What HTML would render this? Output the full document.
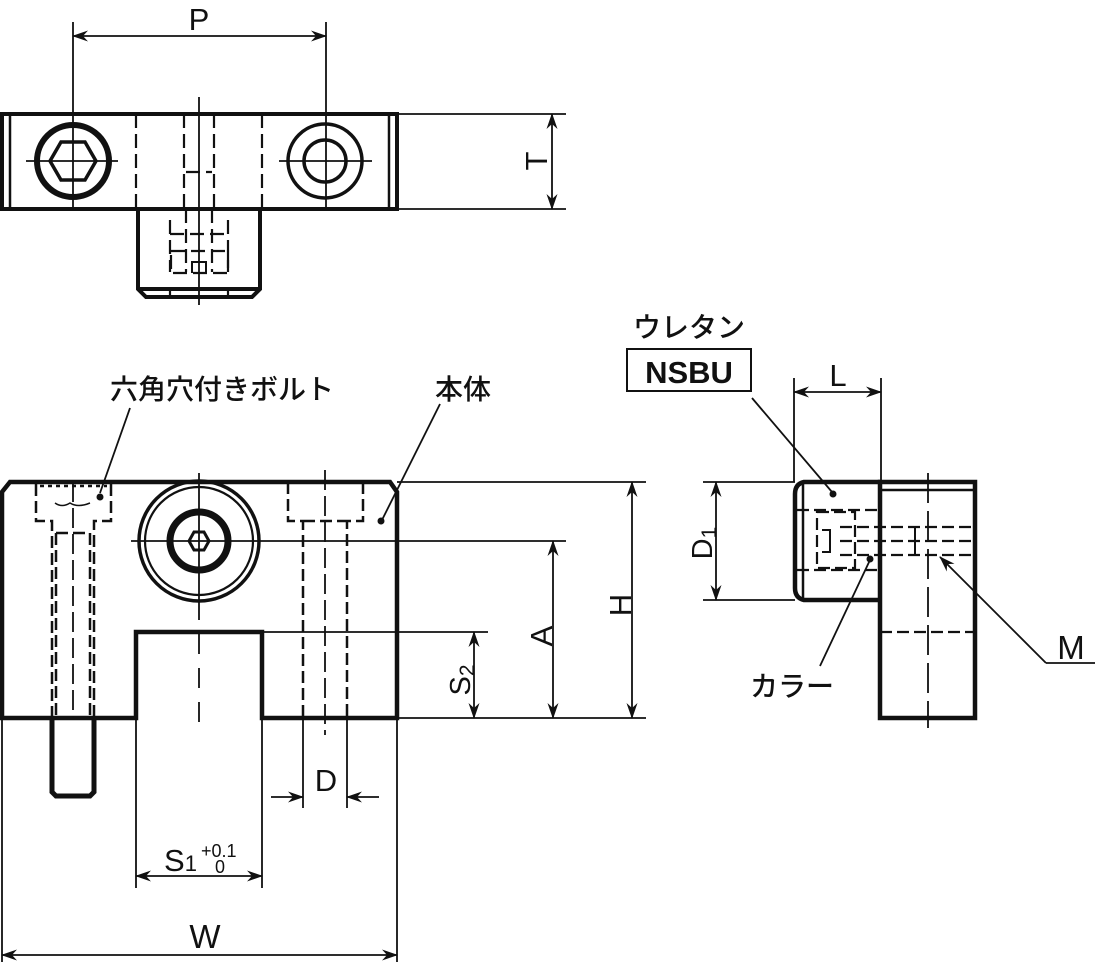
<!DOCTYPE html>
<html><head><meta charset="utf-8"><style>
html,body{margin:0;padding:0;background:#fff;}
svg{display:block;}
text{font-family:"Liberation Sans","Noto Sans CJK JP",sans-serif;fill:#111;}
.j{font-weight:500;}
</style></head><body>
<svg width="1098" height="968" viewBox="0 0 1098 968" xmlns="http://www.w3.org/2000/svg">
<defs>
<marker id="a" markerWidth="16" markerHeight="11" refX="15" refY="5.5" orient="auto-start-reverse" markerUnits="userSpaceOnUse">
<path d="M0,0 L16,5.5 L0,11 L5,5.5 Z" fill="#111"/></marker>
</defs>
<g stroke="#111" fill="none">
<!-- TOP VIEW -->
<g stroke-width="1.8">
<line x1="73" y1="22" x2="73" y2="208"/><line x1="326" y1="22" x2="326" y2="208"/>
<line x1="73" y1="36" x2="326" y2="36" marker-start="url(#a)" marker-end="url(#a)"/>
<line x1="397" y1="114" x2="566" y2="114"/><line x1="397" y1="209" x2="566" y2="209"/>
<line x1="552" y1="114" x2="552" y2="209" marker-start="url(#a)" marker-end="url(#a)"/>
<line x1="199" y1="97" x2="199" y2="305"/>
<line x1="26" y1="161" x2="118" y2="161"/><line x1="279" y1="161" x2="372" y2="161"/>
</g>
<rect x="2" y="114" width="395" height="95" stroke-width="4"/>
<line x1="10" y1="114" x2="10" y2="209" stroke-width="2.5"/><line x1="389" y1="114" x2="389" y2="209" stroke-width="2.5"/>
<circle cx="73" cy="161" r="36" stroke-width="6"/>
<polygon points="61,142 85,142 96,161 85,180 61,180 50,161" stroke-width="3.5"/>
<circle cx="325" cy="161" r="37" stroke-width="3.5"/><circle cx="325" cy="161" r="21" stroke-width="3.5"/>
<g stroke-width="2.2" stroke-dasharray="14,6">
<line x1="136" y1="114" x2="136" y2="209"/><line x1="262" y1="114" x2="262" y2="209"/>
<line x1="184" y1="114" x2="184" y2="209"/><line x1="214" y1="114" x2="214" y2="209"/>
<line x1="186" y1="172" x2="212" y2="172"/>
<line x1="170" y1="220" x2="170" y2="272"/><line x1="228" y1="220" x2="228" y2="272"/>
<line x1="186" y1="209" x2="186" y2="272"/><line x1="212" y1="209" x2="212" y2="272"/>
<rect x="171" y="251" width="57" height="22"/>
<line x1="170" y1="234" x2="228" y2="234"/>
<line x1="170" y1="290" x2="170" y2="297"/><line x1="228" y1="290" x2="228" y2="297"/>
</g>
<path d="M138,209 L138,289 L146,297 L252,297 L260,289 L260,209 M140,289 L258,289" stroke-width="4"/>
<path d="M192,273 L192,262 L206,262 L206,273" stroke-width="2"/>

<!-- FRONT VIEW -->
<path d="M10,482 L390,482 L397,492 L397,718 L262,718 L262,632 L136,632 L136,718 L2,718 L2,492 Z" stroke-width="4.5"/>
<g stroke-width="1.8">
<line x1="397" y1="482" x2="646" y2="482"/><line x1="268" y1="541" x2="566" y2="541"/>
<line x1="262" y1="632" x2="488" y2="632"/><line x1="397" y1="718" x2="646" y2="718"/>
<line x1="632" y1="482" x2="632" y2="718" marker-start="url(#a)" marker-end="url(#a)"/>
<line x1="553" y1="541" x2="553" y2="718" marker-start="url(#a)" marker-end="url(#a)"/>
<line x1="474" y1="632" x2="474" y2="718" marker-start="url(#a)" marker-end="url(#a)"/>
<line x1="199" y1="473" x2="199" y2="600"/><line x1="131" y1="541" x2="268" y2="541"/>
<line x1="2" y1="718" x2="2" y2="962"/><line x1="397" y1="718" x2="397" y2="962"/>
<line x1="136" y1="718" x2="136" y2="888"/><line x1="262" y1="718" x2="262" y2="888"/>
<line x1="303" y1="718" x2="303" y2="808"/><line x1="347" y1="718" x2="347" y2="808"/>
<line x1="271" y1="797" x2="303" y2="797" marker-end="url(#a)"/><line x1="379" y1="797" x2="347" y2="797" marker-end="url(#a)"/>
<line x1="136" y1="876" x2="262" y2="876" marker-start="url(#a)" marker-end="url(#a)"/>
<line x1="2" y1="955" x2="397" y2="955" marker-start="url(#a)" marker-end="url(#a)"/>
<line x1="325" y1="470" x2="325" y2="735" stroke-dasharray="20,6"/>
<line x1="199" y1="600" x2="199" y2="730" stroke-dasharray="20,14"/>
<line x1="73" y1="482" x2="73" y2="718" stroke-dasharray="20,6"/>
</g>
<circle cx="199" cy="541" r="60" stroke-width="3.5"/><circle cx="199" cy="541" r="54" stroke-width="2.2"/>
<circle cx="199" cy="541" r="29" stroke-width="7"/>
<polygon points="194,532 204,532 209,541 204,550 194,550 189,541" stroke-width="3"/>
<g stroke-width="2.5" stroke-dasharray="12,5">
<path d="M288,482 L288,521 L303,521 L303,718 M363,482 L363,521 L347,521 L347,718 M303,521 L347,521"/>
<path d="M36,484 L36,521 L52,521 L52,718 M111,484 L111,521 L94,521 L94,718 M56,533 L56,718 M90,533 L90,718 M56,533 L90,533"/>
<path d="M40,486 L107,486" stroke-dasharray="4,4"/>
<path d="M55,503 Q62,508 70,503 Q78,508 90,503" stroke-dasharray="none" stroke-width="1.5"/>
</g>
<path d="M52,718 L52,792 L56,796 L90,796 L94,792 L94,718" stroke-width="5"/>
<g stroke-width="1.8">
<line x1="130" y1="408" x2="100" y2="493"/><line x1="440" y1="404" x2="382" y2="520"/>
</g>
<circle cx="100" cy="497" r="3.5" fill="#111" stroke="none"/><circle cx="381" cy="521" r="3.5" fill="#111" stroke="none"/>

<!-- SIDE VIEW -->
<path d="M880,482 L975,482 L975,718 L880,718 Z" stroke-width="4.5"/>
<line x1="880" y1="490" x2="975" y2="490" stroke-width="2.5"/>
<path d="M880,482 L804,482 Q795,484 795,494 L795,588 Q795,598 804,600 L880,600" stroke-width="4.5"/>
<line x1="803" y1="484" x2="803" y2="598" stroke-width="2.5"/>
<g stroke-width="1.8">
<line x1="794" y1="378" x2="794" y2="482"/><line x1="881" y1="378" x2="881" y2="482"/>
<line x1="794" y1="392" x2="881" y2="392" marker-start="url(#a)" marker-end="url(#a)"/>
<line x1="703" y1="482" x2="795" y2="482"/><line x1="703" y1="600" x2="795" y2="600"/>
<line x1="716" y1="482" x2="716" y2="600" marker-start="url(#a)" marker-end="url(#a)"/>
<line x1="928" y1="473" x2="928" y2="728" stroke-dasharray="30,8"/>
<line x1="752" y1="398" x2="832" y2="492"/>
<line x1="820" y1="666" x2="870" y2="560"/>
<line x1="1095" y1="663" x2="1046" y2="663"/><line x1="1046" y1="663" x2="940" y2="557" marker-end="url(#a)"/>
</g>
<circle cx="833" cy="494" r="3.5" fill="#111" stroke="none"/><circle cx="870" cy="559" r="3.5" fill="#111" stroke="none"/>
<g stroke-width="2.2" stroke-dasharray="12,5">
<line x1="797" y1="510" x2="880" y2="510"/><line x1="797" y1="570" x2="880" y2="570"/>
<rect x="817" y="512" width="38" height="56"/>
<line x1="840" y1="527" x2="975" y2="527"/><line x1="840" y1="541" x2="975" y2="541"/><line x1="840" y1="555" x2="975" y2="555"/>
<line x1="880" y1="632" x2="975" y2="632"/>
</g>
<path d="M822,530 L830,530 L830,552 L822,552" stroke-width="2"/>
<line x1="915" y1="527" x2="915" y2="555" stroke-width="2"/>
</g>
<!-- text -->
<text x="199" y="30" font-size="31" text-anchor="middle">P</text>
<text transform="translate(547,161) rotate(-90)" font-size="31" text-anchor="middle">T</text>
<text class="j" x="222" y="399" font-size="28" text-anchor="middle">六角穴付きボルト</text>
<text class="j" x="463" y="399" font-size="28" text-anchor="middle">本体</text>
<text transform="translate(552,636) rotate(-90)" font-size="31" text-anchor="middle">A</text>
<text transform="translate(631,605) rotate(-90)" font-size="31" text-anchor="middle">H</text>
<text transform="translate(470,680) rotate(-90)" font-size="29" text-anchor="middle">S<tspan font-size="21" dy="4">2</tspan></text>
<text x="326" y="791" font-size="31" text-anchor="middle">D</text>
<text x="164" y="871" font-size="31">S<tspan font-size="22">1</tspan></text>
<text x="201" y="857" font-size="18">+0.1</text>
<text x="215" y="873" font-size="18">0</text>
<text x="205" y="948" font-size="33" text-anchor="middle">W</text>
<text class="j" x="689" y="337" font-size="28" text-anchor="middle">ウレタン</text>
<rect x="627" y="349" width="124" height="42" fill="none" stroke="#111" stroke-width="2"/>
<text x="689" y="383" font-size="31" font-weight="bold" text-anchor="middle">NSBU</text>
<text x="838" y="386" font-size="31" text-anchor="middle">L</text>
<text transform="translate(712,543) rotate(-90)" font-size="29" text-anchor="middle">D<tspan font-size="21" dy="4">1</tspan></text>
<text class="j" x="792" y="696" font-size="28" text-anchor="middle">カラー</text>
<text x="1071" y="659" font-size="33" text-anchor="middle">M</text>
</svg>
</body></html>
